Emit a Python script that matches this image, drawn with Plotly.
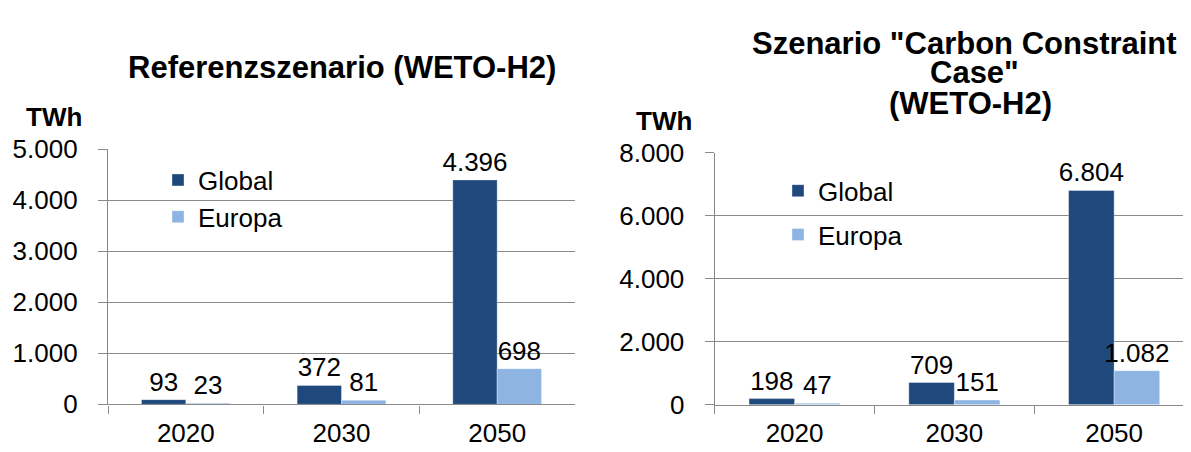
import plotly.graph_objects as go

W, H = 1191, 452

years = ["2020", "2030", "2050"]
ref_global = [93, 372, 4396]
ref_europa = [23, 81, 698]
ccc_global = [198, 709, 6804]
ccc_europa = [47, 151, 1082]

left_ticks = [0, 1000, 2000, 3000, 4000, 5000]
right_ticks = [0, 2000, 4000, 6000, 8000]

title_left = "Referenzszenario (WETO-H2)"
title_right = ['Szenario "Carbon Constraint', 'Case"', "(WETO-H2)"]
unit = "TWh"

C_GLOBAL = "#1F497D"
C_EUROPA = "#8EB4E3"
GRID = "#8A8A8A"
FONT = "Liberation Sans, Arial, sans-serif"
FS = 26


def de(v):
    return f"{v:,}".replace(",", ".")


def px_x(x):
    return x / W


def px_y(y):
    return (H - y) / H


fig = go.Figure()

for name, vals, col, xa, ya, lg in [
    ("Global", ref_global, C_GLOBAL, "x", "y", "legend"),
    ("Europa", ref_europa, C_EUROPA, "x", "y", "legend"),
    ("Global", ccc_global, C_GLOBAL, "x2", "y2", "legend2"),
    ("Europa", ccc_europa, C_EUROPA, "x2", "y2", "legend2"),
]:
    fig.add_trace(go.Bar(
        x=years, y=vals, name=name,
        marker=dict(color=col, line=dict(width=1, color="rgba(255,255,255,0.35)")),
        text=[de(v) for v in vals], textposition="outside", constraintext="none",
        cliponaxis=False, textfont=dict(size=FS, color="#000000", family=FONT),
        xaxis=xa, yaxis=ya, legend=lg, legendgroup=lg + name,
    ))

axis_common = dict(showline=True, linecolor=GRID, linewidth=1.3, ticks="outside",
                   tickcolor=GRID, tickwidth=1.3,
                   tickfont=dict(size=FS, color="#000000", family=FONT))

fig.update_layout(
    width=W, height=H, margin=dict(l=0, r=0, t=0, b=0),
    paper_bgcolor="white", plot_bgcolor="white",
    separators=",.", barmode="group", bargap=0.43, bargroupgap=0,
    font=dict(family=FONT, color="#000000"),
    xaxis=dict(domain=[px_x(100), px_x(567)], anchor="y", tickson="boundaries",
               ticklen=8, ticklabelstandoff=5, **axis_common),
    yaxis=dict(domain=[px_y(408.5), px_y(135)], anchor="x", range=[0, 5000],
               tickvals=left_ticks, ticktext=[de(v) for v in left_ticks],
               showgrid=True, gridcolor=GRID, gridwidth=1.3, zeroline=False,
               ticklen=9, ticklabelstandoff=15, **axis_common),
    xaxis2=dict(domain=[px_x(706.7), px_x(1186)], anchor="y2", tickson="boundaries",
                ticklen=8, ticklabelstandoff=5, **axis_common),
    yaxis2=dict(domain=[px_y(409), px_y(139)], anchor="x2", range=[0, 8000],
                tickvals=right_ticks, ticktext=[de(v) for v in right_ticks],
                showgrid=True, gridcolor=GRID, gridwidth=1.3, zeroline=False,
                ticklen=9, ticklabelstandoff=15, **axis_common),
    legend=dict(x=px_x(150), y=px_y(143), xanchor="left", yanchor="top",
                bgcolor="rgba(0,0,0,0)", traceorder="grouped", tracegroupgap=0,
                font=dict(size=FS, color="#000000", family=FONT)),
    legend2=dict(x=px_x(770), y=px_y(154.5), xanchor="left", yanchor="top",
                 bgcolor="rgba(0,0,0,0)", traceorder="grouped", tracegroupgap=7,
                 font=dict(size=FS, color="#000000", family=FONT)),
)

TF = dict(size=31, color="#000000", family=FONT)
UF = dict(size=FS, color="#000000", family=FONT)
ann = [
    dict(text=f"<b>{title_left}</b>", x=px_x(334), y=px_y(47.5), xanchor="center", yanchor="middle", font=TF),
    dict(text=f"<b>{title_right[0]}</b>", x=px_x(956), y=px_y(22), xanchor="center", yanchor="middle", font=TF),
    dict(text=f"<b>{title_right[1]}</b>", x=px_x(966), y=px_y(53), xanchor="center", yanchor="middle", font=TF),
    dict(text=f"<b>{title_right[2]}</b>", x=px_x(962), y=px_y(86), xanchor="center", yanchor="middle", font=TF),
    dict(text=f"<b>{unit}</b>", x=px_x(16), y=px_y(100.5), xanchor="left", yanchor="middle", font=UF),
    dict(text=f"<b>{unit}</b>", x=px_x(626), y=px_y(105.5), xanchor="left", yanchor="middle", font=UF),
]
for a in ann:
    a.update(xref="paper", yref="paper", showarrow=False)
fig.update_layout(annotations=ann)

fig.write_html("out.html")
